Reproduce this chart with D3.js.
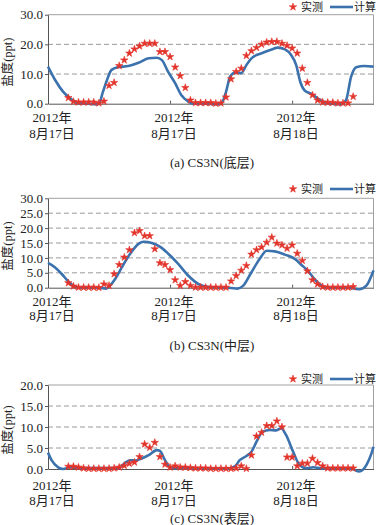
<!DOCTYPE html>
<html>
<head>
<meta charset="utf-8">
<script src="https://cdn.jsdelivr.net/npm/d3@7"></script>
<style>
body { margin: 0; background: #fff; }
svg { display: block; }
text { font-family: "Liberation Serif", "Noto Sans CJK SC", serif; fill: #222; }
</style>
</head>
<body>
<svg id="chart" width="377" height="525"></svg>
<script>
// observed values, every half hour starting at hour 2
var obsStart = 2;
var obsA = [2.0, 0.7, 0.5, 0.5, 0.5, 0.5, 0.2, 0.8, 6.1, 7.1, 12.8, 14.7, 17.0, 18.4, 19.4, 20.3,
    20.3, 20.3, 17.5, 17.5, 15.8, 12.3, 9.4, 5.4, 1.2, 0.3, 0.3, 0.3, 0.3, 0.1, 0.2, 2.2,
    8.3, 10.8, 11.9, 16.2, 17.8, 18.9, 20.0, 20.7, 20.9, 20.9, 20.3, 19.6, 18.7, 17.0, 11.9, 7.1,
    2.9, 1.2, 0.5, 0.4, 0.4, 0.2, 0.2, 0.2, 2.4];
var obsB = [1.6, 0.5, 0.1, 0.1, 0.1, 0.1, 0.0, 1.2, 0.7, 4.6, 7.7, 10.2, 12.7, 18.4, 19.1, 17.4,
    17.4, 13.0, 8.3, 7.7, 6.0, 2.6, 0.7, 2.0, 0.7, 0.1, 0.1, 0.1, 0.1, 0.1, 0.1, 0.1,
    2.2, 4.0, 5.8, 7.4, 11.2, 12.7, 13.6, 15.2, 16.9, 14.9, 14.3, 13.2, 14.3, 11.5, 9.1, 5.6,
    2.6, 1.2, 0.3, 0.1, 0.1, 0.1, 0.1, 0.1, 0.3];
var obsC = [0.6, 0.6, 0.4, 0.2, 0.1, 0.1, 0.1, 0.1, 0.1, 0.2, 0.4, 0.8, 1.3, 1.6, 2.9, 5.9,
    5.1, 6.3, 2.9, 1.1, 0.4, 0.7, 0.4, 0.4, 0.3, 0.2, 0.2, 0.2, 0.1, 0.1, 0.1, 0.1,
    0.1, 0.2, 0.7, 0.1, 3.3, 7.8, 8.7, 10.3, 10.3, 11.4, 10.0, 2.8, 2.8, 0.7, 1.35, 1.35,
    2.5, 1.5, 0.7, 0.2, 0.2, 0.2, 0.2, 0.2, 0.2];

// computed series (hour, value)
var calcHoursA = [0, 0.7, 1.5, 2.3, 3.0, 4.0, 4.6, 5.0, 5.4, 5.8, 6.25, 6.9, 7.9, 8.9, 9.9, 10.7,
    11.2, 11.8, 12.5, 13.1, 13.8, 14.3, 15.5, 16.5, 17.0, 17.5, 17.9, 18.4, 19.0, 19.5, 20.0, 21.0,
    22.0, 22.6, 23.3, 23.9, 24.4, 24.8, 25.2, 25.9, 26.5, 27.2, 27.8, 28.8, 29.3, 29.8, 30.3, 31.1, 32];
var calcA = [12.5, 8.0, 4.0, 1.5, 0.1, 0, -0.2, 0, 4.0, 8.0, 11.4, 12.3, 12.7, 13.8, 15.3, 15.5,
    14.7, 10.8, 6.9, 2.9, 0.7, 0, 0, -0.2, -0.1, 4.0, 9.1, 10.5, 10.3, 13.0, 15.3, 17.0,
    18.3, 18.9, 18.3, 16.4, 13.0, 7.4, 4.6, 3.3, 1.8, 0.5, 0, -0.2, 1.2, 9.1, 12.3, 12.7, 12.5];
var calcHoursB = [0, 0.7, 1.35, 2.0, 2.65, 3.3, 5.0, 5.7, 6.1, 6.6, 7.25, 8.06, 8.9, 9.4, 10.2, 11.0,
    11.8, 12.8, 13.8, 14.8, 15.8, 17.0, 18.0, 18.6, 19.2, 20.0, 20.8, 21.5, 22.3, 23.3, 24.3, 24.9,
    25.6, 26.2, 26.9, 27.5, 29.5, 30.6, 31.3, 31.8, 32];
var calcB = [8.3, 6.8, 4.6, 2.1, 0.3, 0, 0, -0.3, 0.7, 2.9, 6.8, 11.3, 14.7, 15.4, 15.0, 13.8,
    11.5, 8.0, 4.0, 1.2, 0.2, 0, -0.1, -0.3, 0.7, 5.2, 9.6, 12.4, 12.2, 11.1, 9.6, 7.7,
    5.5, 2.9, 0.7, 0, 0, -0.5, 0.7, 4.0, 5.8];
var calcHoursC = [0, 0.35, 1.0, 1.5, 2.15, 3.0, 6.9, 7.6, 8.06, 8.55, 9.2, 9.9, 10.7, 11.0, 11.5, 12.0,
    12.6, 17.7, 18.4, 18.85, 19.5, 20.0, 20.5, 21.1, 21.8, 22.4, 22.9, 23.4, 24.1, 24.75, 25.4, 26.1,
    26.8, 29.8, 30.6, 31.3, 31.8, 32];
var calcC = [3.9, 2.1, 0.4, 0.0, 0.4, 0.2, 0.2, 1.5, 2.1, 2.0, 2.5, 3.3, 4.5, 4.3, 2.1, 0.4,
    0.2, 0.1, 0.7, 2.1, 3.1, 4.1, 6.5, 8.9, 9.3, 9.2, 9.7, 8.1, 4.1, 0.9, 0.2, 0.4,
    0.2, 0.1, -0.6, 0.9, 3.7, 5.3];

var xTickHours = [0, 12, 24];
var xTickYear = ['2012年', '2012年', '2012年'];
var xTickDay = ['8月17日', '8月17日', '8月18日'];
var yMaxes = [30, 30, 20];
var yStepsList = [[0, 10, 20, 30], [0, 5, 10, 15, 20, 25, 30], [0, 5, 10, 15, 20]];
var panelTitles = ['(a) CS3N(底层)', '(b) CS3N(中层)', '(c) CS3N(表层)'];
var yTitle = '盐度(ppt)';
var legendNames = ['实测', '计算'];

var red = '#e3342b';
var blue = '#3b72ae';

var svg = d3.select('#chart');
var left = 48, right = 373.5;
var xScale = d3.scaleLinear().domain([0, 32]).range([left, right]);

var panels = [
    { obs: obsA, hours: calcHoursA, calc: calcA, top: 14.7, bottom: 103.7, legendY: 7, yearY: 117, dayY: 133, titleY: 162 },
    { obs: obsB, hours: calcHoursB, calc: calcB, top: 198.3, bottom: 287.7, legendY: 189, yearY: 301, dayY: 315, titleY: 345 },
    { obs: obsC, hours: calcHoursC, calc: calcC, top: 385, bottom: 469, legendY: 379, yearY: 485, dayY: 500, titleY: 518 }
];

function drawPanel(p, i) {
    var g = svg.append('g');
    var yScale = d3.scaleLinear().domain([0, yMaxes[i]]).range([p.bottom, p.top]);
    var ticks = yStepsList[i];

    // dashed grid
    g.selectAll('.grid')
        .data(ticks.slice(1, -1))
        .join('line')
        .attr('x1', left).attr('x2', right)
        .attr('y1', yScale).attr('y2', yScale)
        .style('stroke', '#9a9a9a')
        .style('stroke-dasharray', '5,3')
        .style('stroke-width', 1);

    // frame top / right
    g.append('path')
        .attr('d', 'M' + left + ',' + p.top + 'H' + right + 'V' + p.bottom)
        .style('fill', 'none')
        .style('stroke', '#a0a0a0');

    // y axis
    var yAxis = d3.axisLeft(yScale)
        .tickValues(ticks)
        .tickFormat(d3.format('.1f'))
        .tickSizeInner(3)
        .tickSizeOuter(0)
        .tickPadding(2);
    var ya = g.append('g').attr('transform', 'translate(' + left + ',0)').call(yAxis);
    ya.select('.domain').style('stroke', '#555');
    ya.selectAll('line').style('stroke', '#555');
    ya.selectAll('text')
        .style('font-size', '13px')
        .style('font-family', '"Liberation Serif", serif')
        .style('fill', '#222');

    // x axis
    var xAxis = d3.axisBottom(xScale)
        .tickValues(xTickHours)
        .tickFormat('')
        .tickSizeInner(-3)
        .tickSizeOuter(0);
    var xa = g.append('g').attr('transform', 'translate(0,' + p.bottom + ')').call(xAxis);
    xa.select('.domain').style('stroke', '#555');
    xa.selectAll('line').style('stroke', '#555');

    g.selectAll('.year')
        .data(xTickHours)
        .join('text')
        .attr('x', function(d) { return xScale(d) + 4; })
        .attr('y', p.yearY + 4.5)
        .attr('text-anchor', 'middle')
        .style('font-size', '13px')
        .text(function(d, j) { return xTickYear[j]; });
    g.selectAll('.day')
        .data(xTickHours)
        .join('text')
        .attr('x', function(d) { return xScale(d) + 4; })
        .attr('y', p.dayY + 4.5)
        .attr('text-anchor', 'middle')
        .style('font-size', '13px')
        .text(function(d, j) { return xTickDay[j]; });

    // y title
    g.append('text')
        .attr('transform', 'translate(12,' + ((p.top + p.bottom) / 2 + 3) + ') rotate(-90)')
        .attr('text-anchor', 'middle')
        .style('font-size', '12.5px')
        .text(yTitle);

    // panel title
    svg.append('text')
        .attr('x', 212)
        .attr('y', p.titleY + 4.5)
        .attr('text-anchor', 'middle')
        .style('font-size', '13px')
        .text(panelTitles[i]);

    // computed line
    var calcData = p.hours.map(function(h, j) { return { h: h, v: p.calc[j] }; });
    var line = d3.line()
        .x(function(d) { return xScale(d.h); })
        .y(function(d) { return yScale(d.v); })
        .curve(d3.curveMonotoneX);
    g.append('path')
        .attr('d', line(calcData))
        .style('fill', 'none')
        .style('stroke', blue)
        .style('stroke-width', 2.6);

    // observed points
    var obsData = p.obs.map(function(v, j) { return { h: obsStart + j * 0.5, v: v }; });
    var star = d3.symbol().type(d3.symbolStar).size(17);
    g.selectAll('.obs')
        .data(obsData)
        .join('path')
        .attr('d', star)
        .attr('transform', function(d) {
            return 'translate(' + xScale(d.h) + ',' + yScale(d.v) + ')';
        })
        .style('fill', red)
        .style('stroke', red)
        .style('stroke-width', 0.6);

    // legend
    var lg = g.append('g').attr('transform', 'translate(0,' + p.legendY + ')');
    lg.append('path')
        .attr('d', star)
        .attr('transform', 'translate(293,0)')
        .style('fill', red)
        .style('stroke', red)
        .style('stroke-width', 0.6);
    lg.append('text').attr('x', 301).attr('y', 4).style('font-size', '11px').text(legendNames[0]);
    lg.append('line')
        .attr('x1', 330).attr('x2', 353).attr('y1', 0).attr('y2', 0)
        .style('stroke', blue).style('stroke-width', 2.6);
    lg.append('text').attr('x', 354).attr('y', 4).style('font-size', '11px').text(legendNames[1]);
}

panels.forEach(drawPanel);
</script>
</body>
</html>
